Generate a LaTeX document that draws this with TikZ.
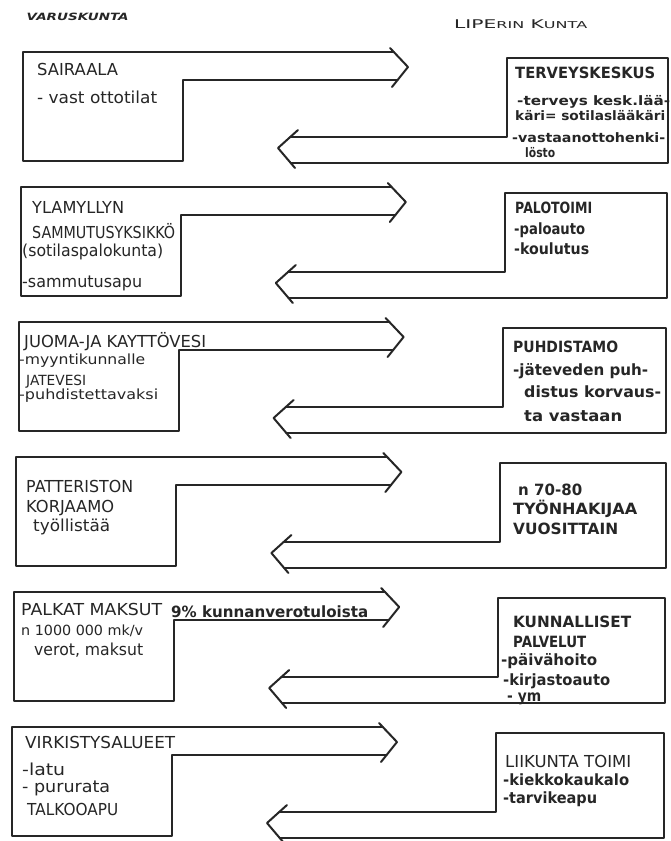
\documentclass[tikz,border=0pt]{standalone}
\usepackage{fontspec}
\setmainfont{DejaVu Sans}
\usepackage{graphicx}
\definecolor{ink}{HTML}{262626}
\newcommand{\fw}[2]{\resizebox{#1pt}{\height}{#2}}
\begin{document}
\begin{tikzpicture}[x=1pt,y=-1pt,
  outline/.style={draw=ink, line width=2pt, line join=round, line cap=round},
  lt/.style={anchor=base west, inner sep=0pt, text=ink, font=\fontsize{16.5}{19}\selectfont},
  ls/.style={anchor=base west, inner sep=0pt, text=ink, font=\fontsize{14}{16}\selectfont},
  rt/.style={anchor=base west, inner sep=0pt, text=ink, font=\fontsize{15.5}{18}\selectfont\bfseries},
  rs/.style={anchor=base west, inner sep=0pt, text=ink, font=\fontsize{13}{15}\selectfont\bfseries}]
\useasboundingbox (0,0) rectangle (671,841);
\fill[white] (0,0) rectangle (671,841);
\foreach \i in {0,...,5}{
  \pgfmathsetmacro{\T}{52+135*\i}
  \pgfmathsetmacro{\d}{-2.2*\i}
  \pgfmathsetmacro{\rr}{668+1.4*\i}
  \begin{scope}[shift={(\d,\T)}]
    \draw[outline] (393.8,0) -- (23,0) -- (23,109) -- (183,109) -- (183,28) -- (397.6,28);
    \draw[outline] (390,-4) -- (408,15) -- (392,35);
    \draw[outline] (290.2,85) -- (507,85) -- (507,6) -- (\rr,6) -- (\rr,111) -- (290.75,111);
    \draw[outline] (298,78) -- (278,96) -- (295,116);
  \end{scope}
}
% headers
\node[anchor=base west, inner sep=0pt, text=ink, font=\fontsize{10}{12}\selectfont\bfseries\itshape] (hl) at (26.5,20) {\fw{102}{VARUSKUNTA}};
\node[anchor=base west, inner sep=0pt, text=ink, font=\fontsize{12}{14}\selectfont] (hr) at (454,28) {\fw{133}{LIPE{\fontsize{9.5}{11}\selectfont RIN} K{\fontsize{9.5}{11}\selectfont UNTA}}};
% row 1
\node[lt] (a1) at (37,75) {\fw{81}{SAIRAALA}};
\node[lt] (a2) at (37,103) {\fw{120}{- vast ottotilat}};
\node[rt] (b1) at (515,78) {\fw{140}{TERVEYSKESKUS}};
\node[rs] (b2) at (517,105) {\fw{153}{-terveys kesk.lää-}};
\node[rs] (b3) at (515,120) {\fw{150}{käri= sotilaslääkäri}};
\node[rs] (b4) at (512,142) {\fw{153}{-vastaanottohenki-}};
\node[rs] (b5) at (525,157) {\fw{30}{lösto}};
% row 2
\node[lt] (c1) at (32,213) {\fw{92}{YLAMYLLYN}};
\node[lt] (c2) at (32,238) {\fw{143}{SAMMUTUSYKSIKKÖ}};
\node[lt] (c3) at (22,256) {\fw{141}{(sotilaspalokunta)}};
\node[lt] (c4) at (22,287) {\fw{120}{-sammutusapu}};
\node[rt] (d1) at (515,213) {\fw{77}{PALOTOIMI}};
\node[rt] (d2) at (514,234) {\fw{71}{-paloauto}};
\node[rt] (d3) at (514,254) {\fw{75}{-koulutus}};
% row 3
\node[lt] (e1) at (24,347) {\fw{182}{JUOMA-JA KAYTTÖVESI}};
\node[ls] (e2) at (19,364) {\fw{126}{-myyntikunnalle}};
\node[ls] (e3) at (26,385) {\fw{60}{JATEVESI}};
\node[ls] (e4) at (19,399) {\fw{139}{-puhdistettavaksi}};
\node[rt] (f1) at (513,352) {\fw{105}{PUHDISTAMO}};
\node[rt] (f2) at (513,375) {\fw{135}{-jäteveden puh-}};
\node[rt] (f3) at (524,397) {\fw{137}{distus korvaus-}};
\node[rt] (f4) at (524,421) {\fw{98}{ta vastaan}};
% row 4
\node[lt] (g1) at (26,492) {\fw{107}{PATTERISTON}};
\node[lt] (g2) at (26,512) {\fw{88}{KORJAAMO}};
\node[lt] (g3) at (33,531) {\fw{77}{työllistää}};
\node[rt] (h1) at (518,495) {\fw{64}{n 70-80}};
\node[rt] (h2) at (513,514) {\fw{124}{TYÖNHAKIJAA}};
\node[rt] (h3) at (513,534) {\fw{105}{VUOSITTAIN}};
% row 5
\node[lt] (i1) at (21,615) {\fw{141}{PALKAT MAKSUT}};
\node[rt] (i2) at (171,617) {\fw{197}{9\% kunnanverotuloista}};
\node[ls] (i3) at (21,635) {\fw{122}{n 1000 000 mk/v}};
\node[lt] (i4) at (34,655) {\fw{109}{verot, maksut}};
\node[rt] (j1) at (513,627) {\fw{118}{KUNNALLISET}};
\node[rt] (j2) at (513,647) {\fw{73}{PALVELUT}};
\node[rt] (j3) at (501,665) {\fw{96}{-päivähoito}};
\node[rt] (j4) at (503,685) {\fw{107}{-kirjastoauto}};
\node[rt] (j5) at (507,701) {\fw{34}{- ym}};
% row 6
\node[lt] (k1) at (25,748) {\fw{150}{VIRKISTYSALUEET}};
\node[lt] (k2) at (22,775) {\fw{43}{-latu}};
\node[lt] (k3) at (22,792) {\fw{88}{- pururata}};
\node[lt] (k4) at (27,815) {\fw{91}{TALKOOAPU}};
\node[lt] (l1) at (505,767) {\fw{126}{LIIKUNTA TOIMI}};
\node[rt] (l2) at (503,785) {\fw{126}{-kiekkokaukalo}};
\node[rt] (l3) at (503,803) {\fw{94}{-tarvikeapu}};
\end{tikzpicture}
\end{document}
